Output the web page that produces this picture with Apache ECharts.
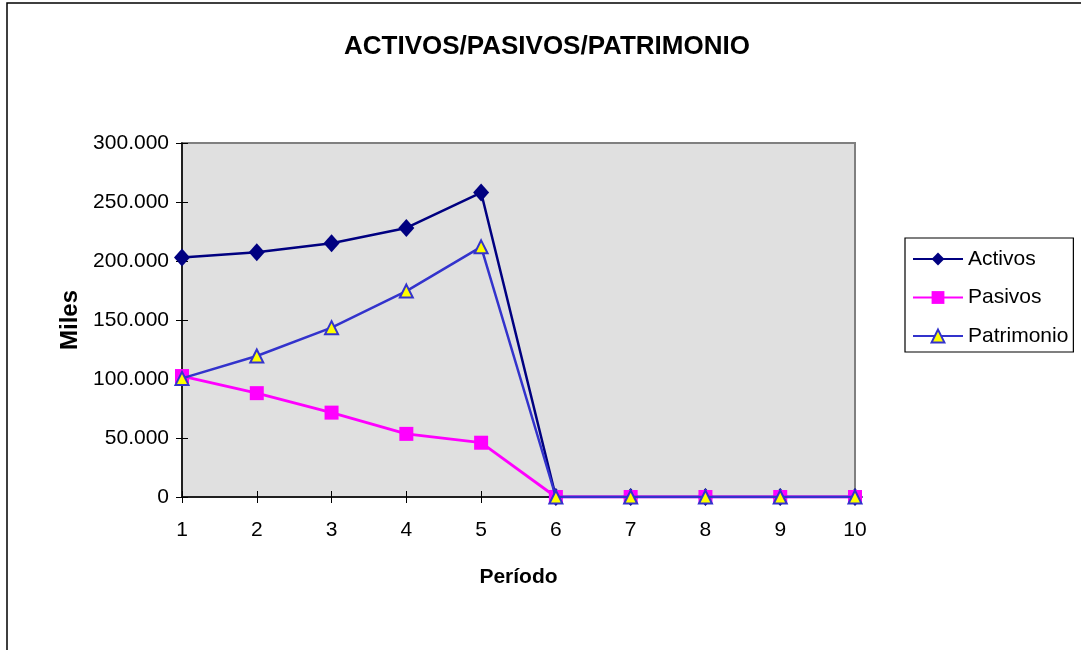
<!DOCTYPE html>
<html>
<head>
<meta charset="utf-8">
<style>
  html, body { margin: 0; padding: 0; background: #ffffff; }
  #chart { width: 1081px; height: 650px; }
</style>
<script src="https://cdn.jsdelivr.net/npm/echarts@6/dist/echarts.min.js"></script>
</head>
<body>
<div id="chart"></div>
<script>
// Períodos y valores en miles
const periodos = ['1', '2', '3', '4', '5', '6', '7', '8', '9', '10'];
const activos = [203000, 207500, 215000, 228000, 258000, 0, 0, 0, 0, 0];
const pasivos = [102500, 88000, 71500, 53500, 46000, 0, 0, 0, 0, 0];
const patrimonio = [100500, 119500, 143500, 174500, 212000, 0, 0, 0, 0, 0];
const yTicks = [0, 50000, 100000, 150000, 200000, 250000, 300000];

const FONT = '"Liberation Sans", Arial, sans-serif';

// 300000 -> "300.000"
function miles(v) {
  return String(v).replace(/\B(?=(\d{3})+(?!\d))/g, '.');
}

const chart = echarts.init(document.getElementById('chart'), null, { renderer: 'canvas' });

const grid = { left: 182, top: 143, right: 226, bottom: 153 };

chart.setOption({
  backgroundColor: '#ffffff',
  animation: false,
  textStyle: { fontFamily: FONT },
  title: {
    text: 'ACTIVOS/PASIVOS/PATRIMONIO',
    left: 339,
    top: 29,
    textStyle: { fontFamily: FONT, fontSize: 26, fontWeight: 'bold', color: '#000000' }
  },
  graphic: [{
    type: 'rect',
    shape: { x: 7, y: 3, width: 1100, height: 700 },
    style: { fill: 'none', stroke: '#000000', lineWidth: 1.5 },
    silent: true
  }],
  legend: {
    orient: 'vertical',
    left: 905,
    top: 238,
    padding: [10.5, 5, 5.5, 7],
    itemGap: 17.5,
    itemWidth: 50,
    itemHeight: 16,
    borderColor: '#000000',
    borderWidth: 1.2,
    borderRadius: 0,
    backgroundColor: '#ffffff',
    textStyle: { fontFamily: FONT, fontSize: 21, color: '#000000' },
    data: ['Activos', 'Pasivos', 'Patrimonio']
  },
  grid: Object.assign({
    show: true,
    backgroundColor: '#e0e0e0',
    borderColor: '#808080',
    borderWidth: 2
  }, grid),
  xAxis: [{
    type: 'category',
    data: periodos,
    boundaryGap: false,
    name: 'Período',
    nameLocation: 'middle',
    nameGap: 70,
    nameTextStyle: { fontFamily: FONT, fontSize: 21, fontWeight: 'bold', color: '#000000', verticalAlign: 'top' },
    axisLine: { lineStyle: { color: '#000000', width: 1.5 } },
    axisTick: { show: true, length: 6, lineStyle: { color: '#000000' } },
    axisLabel: { margin: 23, fontFamily: FONT, fontSize: 21, color: '#000000' },
    splitLine: { show: false }
  }, {
    // marcas interiores para que las divisiones crucen el eje
    type: 'category',
    data: periodos,
    boundaryGap: false,
    position: 'bottom',
    axisLine: { show: false },
    axisTick: { show: true, inside: true, length: 6, lineStyle: { color: '#000000' } },
    axisLabel: { show: false },
    splitLine: { show: false }
  }],
  yAxis: [{
    type: 'value',
    min: 0,
    max: 300000,
    interval: 50000,
    name: 'Miles',
    nameLocation: 'middle',
    nameGap: 94,
    nameTextStyle: { fontFamily: FONT, fontSize: 24, fontWeight: 'bold', color: '#000000' },
    axisLine: { show: true, lineStyle: { color: '#000000', width: 1.5 } },
    axisTick: { show: true, length: 6, lineStyle: { color: '#000000' } },
    axisLabel: {
      margin: 13,
      fontFamily: FONT,
      fontSize: 21,
      color: '#000000',
      customValues: yTicks,
      formatter: v => miles(v)
    },
    splitLine: { show: false }
  }, {
    type: 'value',
    min: 0,
    max: 300000,
    interval: 50000,
    position: 'left',
    axisLine: { show: false },
    axisTick: { show: true, inside: true, length: 6, lineStyle: { color: '#000000' } },
    axisLabel: { show: false },
    splitLine: { show: false }
  }],
  series: [{
    name: 'Activos',
    type: 'line',
    data: activos,
    symbol: 'diamond',
    symbolSize: [16, 18],
    lineStyle: { color: '#000080', width: 2.5 },
    itemStyle: { color: '#000080', borderColor: '#000080', borderWidth: 0 },
    z: 2
  }, {
    name: 'Pasivos',
    type: 'line',
    data: pasivos,
    symbol: 'rect',
    symbolSize: 14,
    lineStyle: { color: '#ff00ff', width: 2.8 },
    itemStyle: { color: '#ff00ff', borderColor: '#ff00ff', borderWidth: 0 },
    z: 3
  }, {
    name: 'Patrimonio',
    type: 'line',
    data: patrimonio,
    symbol: 'triangle',
    symbolSize: [13, 13],
    lineStyle: { color: '#3333cc', width: 2.5 },
    itemStyle: { color: '#ffff00', borderColor: '#3333cc', borderWidth: 2 },
    z: 4
  }]
});
</script>
</body>
</html>
